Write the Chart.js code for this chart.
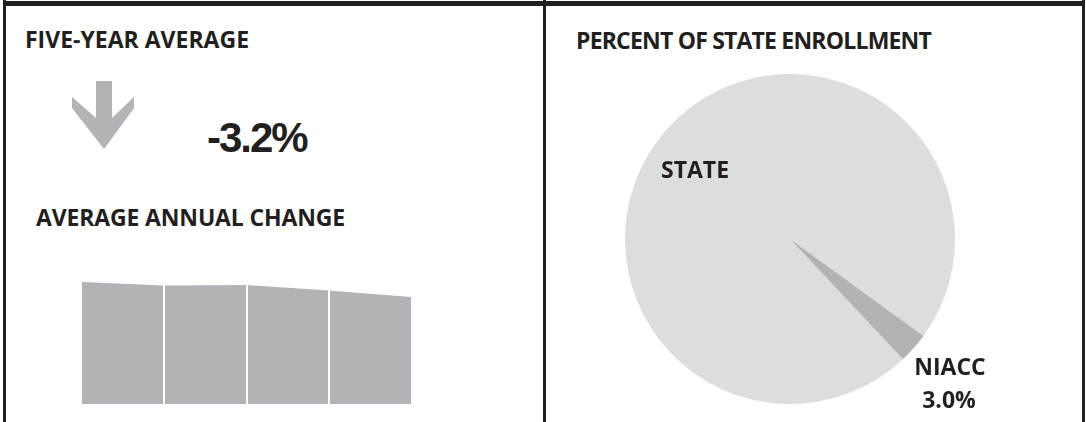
<!DOCTYPE html>
<html>
  <head>
    <title>Enrollment</title>
    <meta charset="UTF-8" />
    <script src="https://cdn.jsdelivr.net/npm/chart.js@4.4.1/dist/chart.umd.min.js"></script>
    <style>
      body { margin: 0; width: 1086px; height: 422px; background: #fff; position: relative; overflow: hidden; }
      .line { position: absolute; background: #231f20; }
      .txt { position: absolute; font-family: "Open Sans", sans-serif; font-weight: 700; font-size: 23px; line-height: 23px; color: #231f20; white-space: nowrap; }
      .big { position: absolute; font-family: "Liberation Sans", Arial, sans-serif; font-weight: 700; font-size: 42px; line-height: 42px; letter-spacing: -2px; color: #231f20; white-space: nowrap; }
      .box { position: absolute; }
    </style>
  </head>
  <body>
    <div class="line" style="left:3px; top:1px; width:1082px; height:5px"></div>
    <div class="line" style="left:3px; top:0; width:3px; height:422px"></div>
    <div class="line" style="left:543px; top:0; width:3px; height:422px"></div>
    <div class="line" style="left:1082px; top:0; width:3px; height:422px"></div>

    <div class="txt" style="left:25px; top:28px">FIVE-YEAR AVERAGE</div>
    <svg style="position:absolute; left:0; top:0" width="200" height="160">
      <polygon points="96,81 112,81 112,118 134,97 134,108 104,149 72,108 72,97 96,118" fill="#b2b3b6" />
    </svg>
    <div class="big" style="left:207px; top:117px">-3.2%</div>
    <div class="txt" style="left:36px; top:206px; letter-spacing:-0.15px">AVERAGE ANNUAL CHANGE</div>
    <div class="box" style="left:82px; top:282px; width:329px; height:122px"><canvas id="trend"></canvas></div>

    <div class="txt" style="left:576px; top:29px; letter-spacing:-0.8px">PERCENT OF STATE ENROLLMENT</div>
    <div class="box" style="left:625px; top:74px; width:330px; height:330px"><canvas id="share"></canvas></div>
    <div class="txt" style="left:661px; top:158px">STATE</div>
    <div class="txt" style="left:900px; top:355px; width:100px; text-align:center">NIACC</div>
    <div class="txt" style="left:899px; top:388px; width:100px; text-align:center">3.0%</div>

    <script>
      // enrollment index (first year = 100)
      var years = ["Year 1", "Year 2", "Year 3", "Year 4", "Year 5"];
      var enrollIndex = [100, 97.2, 97.5, 93.1, 87.7];

      var shareLabels = ["STATE", "NIACC"];
      var shareValues = [97.0, 3.0];

      Chart.defaults.font.family = "Open Sans";

      new Chart(document.getElementById("trend"), {
        type: "line",
        data: {
          labels: years,
          datasets: [
            {
              data: enrollIndex,
              fill: "origin",
              backgroundColor: "#b2b3b6",
              borderWidth: 0,
              pointRadius: 0,
              tension: 0
            }
          ]
        },
        options: {
          animation: false,
          responsive: true,
          maintainAspectRatio: false,
          layout: { padding: 0 },
          plugins: { legend: { display: false }, tooltip: { enabled: false } },
          scales: {
            x: {
              offset: false,
              border: { display: false },
              ticks: { display: false },
              grid: {
                z: 1, // white separators drawn over the fill
                drawTicks: false,
                lineWidth: 2,
                color: function(ctx) {
                  var last = years.length - 1;
                  return ctx.index === 0 || ctx.index === last ? "rgba(0,0,0,0)" : "#ffffff";
                }
              }
            },
            y: { display: false, min: 0, max: 100 }
          }
        }
      });

      new Chart(document.getElementById("share"), {
        type: "pie",
        data: {
          labels: shareLabels,
          datasets: [
            {
              data: shareValues,
              backgroundColor: ["#dcdddf", "#b2b3b6"],
              borderWidth: 0,
              hoverOffset: 0,
              offset: 0
            }
          ]
        },
        options: {
          animation: false,
          responsive: true,
          maintainAspectRatio: false,
          rotation: 136.8,
          layout: { padding: 0 },
          plugins: { legend: { display: false }, tooltip: { enabled: false } }
        }
      });
    </script>
  </body>
</html>
